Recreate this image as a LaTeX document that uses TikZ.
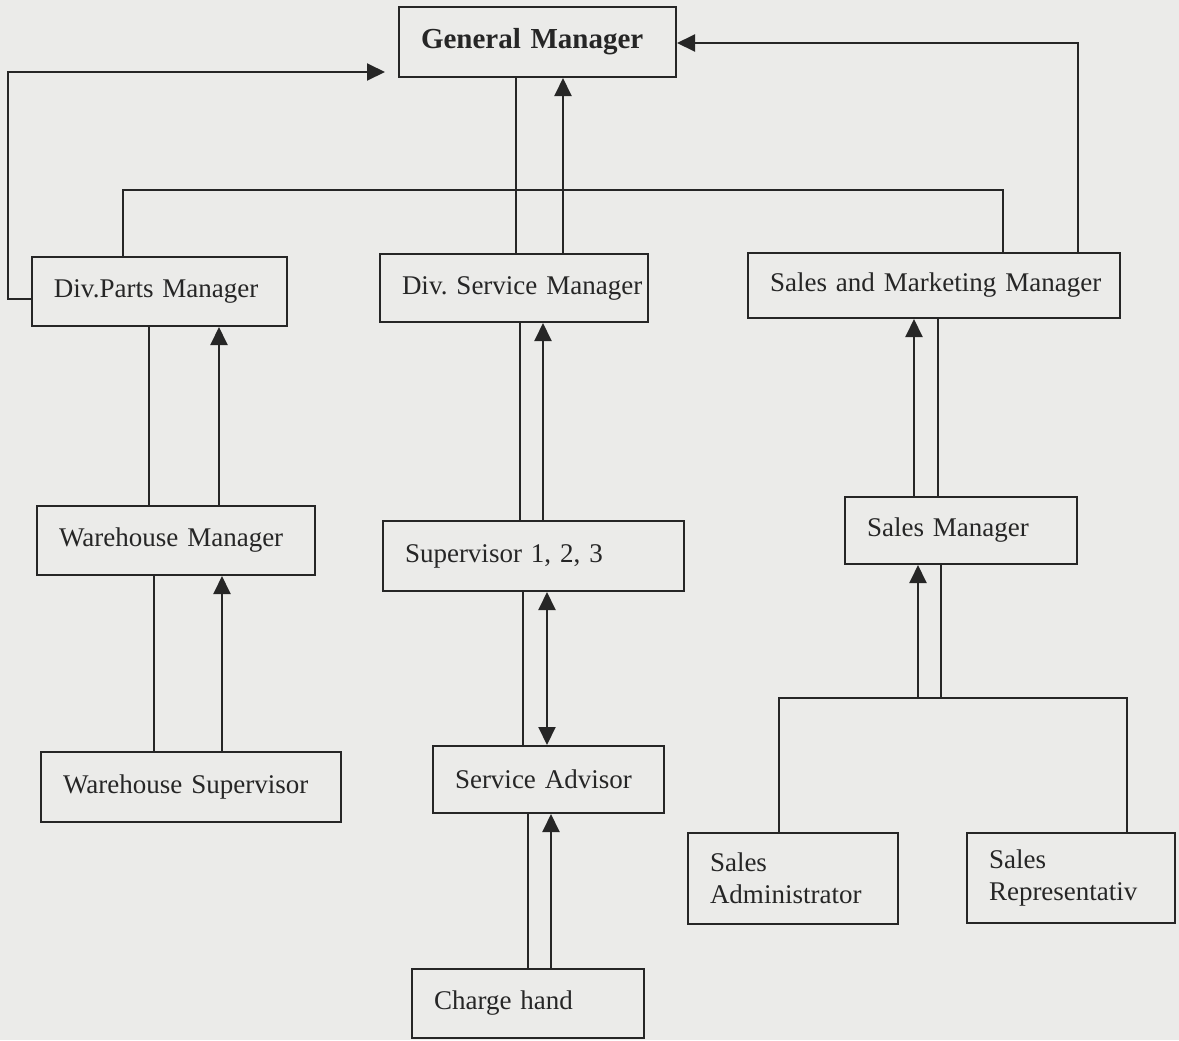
\documentclass[tikz,border=0pt]{standalone}
\usepackage{fontspec}
\setmainfont{Liberation Serif}
\usetikzlibrary{arrows.meta}
\definecolor{paper}{RGB}{235,235,233}
\definecolor{ink}{RGB}{38,38,38}
\begin{document}
\begin{tikzpicture}[x=0.5pt,y=-0.5pt,
        post/.style={draw=ink,line width=1pt,rectangle,align=left,inner xsep=0pt,inner ysep=0pt,text=ink,
            execute at begin node={\leftskip=11pt\frenchspacing},font=\fontsize{13.5}{16}\selectfont},
        link/.style={draw=ink,line width=1pt},
        up/.style={link,-{Triangle[length=9pt,width=8.5pt]}},
        both/.style={link,{Triangle[length=9pt,width=8.5pt]}-{Triangle[length=9pt,width=8.5pt]}}]
        \useasboundingbox (0,0) rectangle (1179,1040);
        \fill[paper] (0,0) rectangle (1179,1040);
        % boxes
        \node[post,text width=138.5pt,minimum height=35pt,font=\fontsize{14.5}{16}\selectfont\bfseries] (gm) at (537.5,42) {General Manager};
        \node[post,text width=127.5pt,minimum height=34.5pt] (dpm) at (159.5,291.5) {Div.Parts Manager};
        \node[post,text width=134pt,minimum height=34pt] (dsm) at (514,288) {Div. Service Manager};
        \node[post,text width=186pt,minimum height=32.5pt] (smm) at (934,285.5) {Sales and Marketing Manager};
        \node[post,text width=139pt,minimum height=34.5pt] (wm) at (176,540.5) {Warehouse Manager};
        \node[post,text width=150.5pt,minimum height=35pt] (sup) at (533.5,556) {Supervisor 1, 2, 3};
        \node[post,text width=116pt,minimum height=33.5pt] (sm) at (961,530.5) {Sales Manager};
        \node[post,text width=150pt,minimum height=35pt] (ws) at (191,787) {Warehouse Supervisor};
        \node[post,text width=115.5pt,minimum height=33.5pt] (sa) at (548.5,779.5) {Service Advisor};
        \node[post,text width=116pt,minimum height=34.5pt] (ch) at (528,1003.5) {Charge hand};
        \node[post,text width=105pt,minimum height=45.5pt] (sad) at (793,878.5) {Sales\\Administrator};
        \node[post,text width=104pt,minimum height=45pt] (sr) at (1071,878) {Sales\\Representativ};
        \coordinate (bus) at (0,698);
        % links to the general manager
        \draw[up,shorten >=6.5pt] (dpm.west |- 0,299) -| (8,72) -- (gm.west |- 0,72);
        \draw[link] (dpm.north -| 123,0) |- (1003,190) -- (smm.north -| 1003,0);
        \draw[link] (dsm.north -| 516,0) -- (gm.south -| 516,0);
        \draw[up] (dsm.north -| 563,0) -- (gm.south -| 563,0);
        \draw[up] (smm.north -| 1078,0) |- (gm.east |- 0,43);
        % parts
        \draw[link] (wm.north -| 149,0) -- (dpm.south -| 149,0);
        \draw[up] (wm.north -| 219,0) -- (dpm.south -| 219,0);
        \draw[link] (ws.north -| 154,0) -- (wm.south -| 154,0);
        \draw[up] (ws.north -| 222,0) -- (wm.south -| 222,0);
        % service
        \draw[link] (sup.north -| 520,0) -- (dsm.south -| 520,0);
        \draw[up] (sup.north -| 543,0) -- (dsm.south -| 543,0);
        \draw[link] (sa.north -| 523,0) -- (sup.south -| 523,0);
        \draw[both] (sa.north -| 547,0) -- (sup.south -| 547,0);
        \draw[link] (ch.north -| 528,0) -- (sa.south -| 528,0);
        \draw[up] (ch.north -| 551,0) -- (sa.south -| 551,0);
        % sales
        \draw[up] (sm.north -| 914,0) -- (smm.south -| 914,0);
        \draw[link] (sm.north -| 938,0) -- (smm.south -| 938,0);
        \draw[link] (sad.north -| 779,0) |- (bus -| 1127,0) -- (sr.north -| 1127,0);
        \draw[up] (bus -| 918,0) -- (sm.south -| 918,0);
        \draw[link] (bus -| 941,0) -- (sm.south -| 941,0);
\end{tikzpicture}
\end{document}
